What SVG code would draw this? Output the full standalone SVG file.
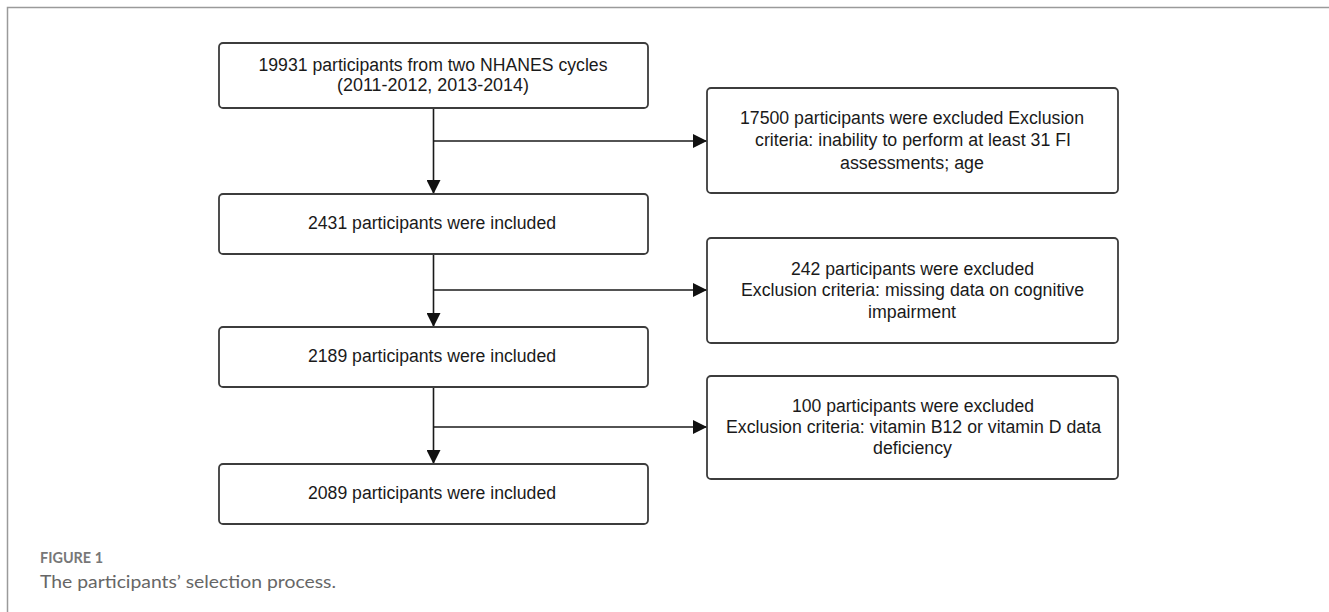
<svg xmlns="http://www.w3.org/2000/svg" width="1329" height="612" viewBox="0 0 1329 612">
  <defs>
    <marker id="arrow" viewBox="0 0 14 14" refX="14" refY="7" markerWidth="14" markerHeight="14" markerUnits="userSpaceOnUse" orient="auto">
      <path d="M0,0 L14,7 L0,14 Z" fill="#111"/>
    </marker>
    <style>
      .box { fill: #ffffff; stroke: #3c3c3c; stroke-width: 1.8; }
      .t { font-family: "Liberation Sans Narrow", "Liberation Sans", Arial, sans-serif; font-size: 18px; fill: #1a1a1a; text-anchor: middle; }
      .conn { fill: none; stroke: #1a1a1a; stroke-width: 1.6; }
      .fig { font-family: Lato, "Open Sans", sans-serif; font-size: 14.5px; font-weight: bold; fill: #777777; }
      .cap { font-family: Lato, "Open Sans", sans-serif; font-size: 18px; fill: #666666; }
    </style>
  </defs>
  <rect x="0" y="0" width="1329" height="612" fill="#ffffff"/>
  <path d="M7.5,612 L7.5,7.5 L1329,7.5" fill="none" stroke="#9a9a9a" stroke-width="1.5"/>

  <g id="connectors">
    <line class="conn" x1="433.5" y1="108" x2="433.5" y2="194" marker-end="url(#arrow)"/>
    <line class="conn" x1="433.5" y1="141" x2="707" y2="141" marker-end="url(#arrow)"/>
    <line class="conn" x1="433.5" y1="254" x2="433.5" y2="327" marker-end="url(#arrow)"/>
    <line class="conn" x1="433.5" y1="290" x2="707" y2="290" marker-end="url(#arrow)"/>
    <line class="conn" x1="433.5" y1="387" x2="433.5" y2="464" marker-end="url(#arrow)"/>
    <line class="conn" x1="433.5" y1="427" x2="707" y2="427" marker-end="url(#arrow)"/>
  </g>

  <g id="node1">
    <rect class="box" x="219" y="43" width="429" height="65" rx="4"/>
    <text class="t" x="433" y="71" textLength="349" lengthAdjust="spacingAndGlyphs">19931 participants from two NHANES cycles</text>
    <text class="t" x="433" y="91" textLength="192" lengthAdjust="spacingAndGlyphs">(2011-2012, 2013-2014)</text>
  </g>
  <g id="node2">
    <rect class="box" x="219" y="194" width="429" height="60" rx="4"/>
    <text class="t" x="432" y="229" textLength="248" lengthAdjust="spacingAndGlyphs">2431 participants were included</text>
  </g>
  <g id="node3">
    <rect class="box" x="219" y="327" width="429" height="60" rx="4"/>
    <text class="t" x="432" y="362" textLength="248" lengthAdjust="spacingAndGlyphs">2189 participants were included</text>
  </g>
  <g id="node4">
    <rect class="box" x="219" y="464" width="429" height="60" rx="4"/>
    <text class="t" x="432" y="499" textLength="248" lengthAdjust="spacingAndGlyphs">2089 participants were included</text>
  </g>

  <g id="excl1">
    <rect class="box" x="707" y="88" width="411" height="105" rx="4"/>
    <text class="t" x="912" y="124" textLength="344" lengthAdjust="spacingAndGlyphs">17500 participants were excluded Exclusion</text>
    <text class="t" x="913" y="146" textLength="316" lengthAdjust="spacingAndGlyphs">criteria: inability to perform at least 31 FI</text>
    <text class="t" x="912" y="169" textLength="144" lengthAdjust="spacingAndGlyphs">assessments; age</text>
  </g>
  <g id="excl2">
    <rect class="box" x="707" y="238" width="411" height="105" rx="4"/>
    <text class="t" x="912.5" y="275" textLength="243" lengthAdjust="spacingAndGlyphs">242 participants were excluded</text>
    <text class="t" x="912.5" y="296" textLength="343" lengthAdjust="spacingAndGlyphs">Exclusion criteria: missing data on cognitive</text>
    <text class="t" x="912" y="318" textLength="88" lengthAdjust="spacingAndGlyphs">impairment</text>
  </g>
  <g id="excl3">
    <rect class="box" x="707" y="376" width="411" height="103" rx="4"/>
    <text class="t" x="913" y="412" textLength="242" lengthAdjust="spacingAndGlyphs">100 participants were excluded</text>
    <text class="t" x="913.5" y="433" textLength="375" lengthAdjust="spacingAndGlyphs">Exclusion criteria: vitamin B12 or vitamin D data</text>
    <text class="t" x="912.5" y="454" textLength="79" lengthAdjust="spacingAndGlyphs">deficiency</text>
  </g>

  <text class="fig" x="40" y="563" textLength="63" lengthAdjust="spacingAndGlyphs">FIGURE 1</text>
  <text class="cap" x="40" y="588" textLength="296" lengthAdjust="spacingAndGlyphs">The participants’ selection process.</text>
</svg>
